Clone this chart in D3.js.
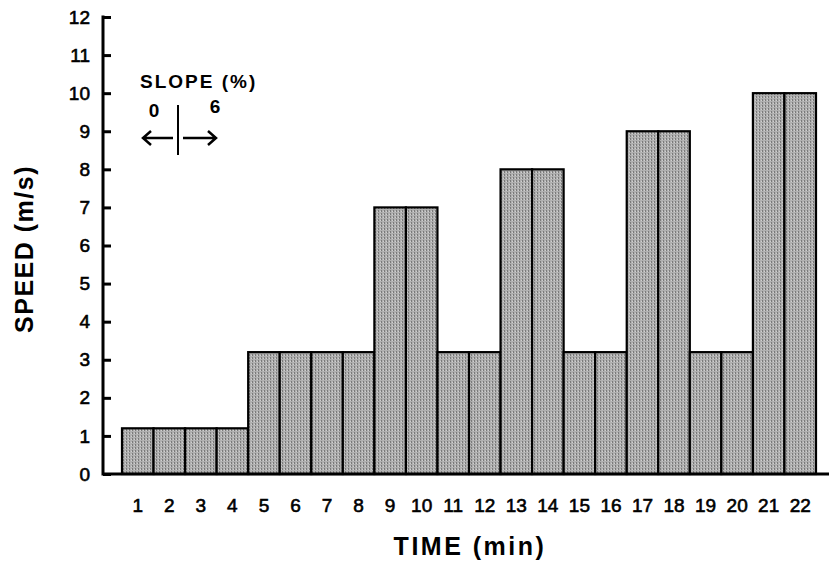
<!DOCTYPE html>
<html>
<head>
<meta charset="utf-8">
<script src="https://cdn.jsdelivr.net/npm/d3@7"></script>
<style>
  body { margin: 0; background: #fff; }
  svg { display: block; font-family: "Liberation Sans", Arial, sans-serif; }
</style>
</head>
<body>
<div id="chart"></div>
<script>
// Vitesse par minute de test (pente 0 % puis 6 %)
const minutes = d3.range(1, 23);
const speeds = [1.2, 1.2, 1.2, 1.2, 3.2, 3.2, 3.2, 3.2, 7, 7, 3.2, 3.2, 8, 8, 3.2, 3.2, 9, 9, 3.2, 3.2, 10, 10];
const yTicks = d3.range(0, 13);

const width = 829, height = 565;
const margin = { top: 17, right: 0, bottom: 90, left: 103 };

const svg = d3.select("#chart")
    .append("svg")
    .attr("width", width)
    .attr("height", height);

// texture grise des barres
const defs = svg.append("defs");
const pat = defs.append("pattern")
    .attr("id", "stipple")
    .attr("width", 3)
    .attr("height", 3)
    .attr("patternUnits", "userSpaceOnUse");
pat.append("rect").attr("width", 3).attr("height", 3).attr("fill", "#b0b0b0");
pat.append("rect").attr("x", 0).attr("y", 0).attr("width", 1).attr("height", 2).attr("fill", "#7a7a7a");
pat.append("rect").attr("x", 2).attr("y", 1).attr("width", 1).attr("height", 1).attr("fill", "#d0d0d0");

const x = d3.scaleBand()
    .domain(minutes)
    .range([122, 816])
    .padding(0);

const y = d3.scaleLinear()
    .domain([0, 12])
    .range([474, margin.top]);

// barres
svg.append("g")
    .selectAll("rect")
    .data(minutes.map((m, i) => ({ m, v: speeds[i] })))
    .enter()
    .append("rect")
    .attr("x", d => x(d.m))
    .attr("y", d => y(d.v))
    .attr("width", x.bandwidth())
    .attr("height", d => y(0) - y(d.v))
    .attr("fill", "url(#stipple)")
    .attr("stroke", "#000")
    .attr("stroke-width", 2.2);

// axe Y (graduations vers l'intérieur)
const yAxis = svg.append("g")
    .attr("transform", `translate(${margin.left},0)`)
    .call(d3.axisRight(y).tickValues(yTicks).tickSize(8).tickFormat(d3.format("d")));
yAxis.select(".domain").remove();
yAxis.selectAll(".tick line").attr("stroke", "#000").attr("stroke-width", 3);
yAxis.selectAll(".tick text")
    .attr("x", -13)
    .attr("text-anchor", "end")
    .attr("font-size", 19)
    .attr("fill", "#000")
    .attr("stroke", "#000")
    .attr("stroke-width", 0.6);

svg.append("line")
    .attr("x1", margin.left).attr("x2", margin.left)
    .attr("y1", y(12) - 1.5).attr("y2", y(0) + 1.5)
    .attr("stroke", "#000").attr("stroke-width", 3);

// axe X
svg.append("line")
    .attr("x1", margin.left).attr("x2", width)
    .attr("y1", y(0)).attr("y2", y(0))
    .attr("stroke", "#000").attr("stroke-width", 3);

svg.append("g")
    .selectAll("text")
    .data(minutes)
    .enter()
    .append("text")
    .attr("x", d => x(d) + x.bandwidth() / 2)
    .attr("y", 512)
    .attr("text-anchor", "middle")
    .attr("font-size", 19)
    .attr("stroke", "#000")
    .attr("stroke-width", 0.6)
    .text(d => d);

// titres des axes
svg.append("text")
    .attr("x", 470)
    .attr("y", 555)
    .attr("text-anchor", "middle")
    .attr("font-size", 25)
    .attr("font-weight", "bold")
    .attr("letter-spacing", 2.5)
    .text("TIME (min)");

svg.append("text")
    .attr("transform", "translate(33,249) rotate(-90)")
    .attr("text-anchor", "middle")
    .attr("font-size", 25)
    .attr("font-weight", "bold")
    .attr("letter-spacing", 1.5)
    .text("SPEED (m/s)");

// annotation pente
const note = svg.append("g");
note.append("text")
    .attr("x", 140).attr("y", 88)
    .attr("font-size", 19).attr("font-weight", "bold")
    .attr("letter-spacing", 2)
    .text("SLOPE (%)");
note.append("text")
    .attr("x", 154).attr("y", 117)
    .attr("text-anchor", "middle")
    .attr("font-size", 19).attr("font-weight", "bold")
    .text("0");
note.append("text")
    .attr("x", 215).attr("y", 113)
    .attr("text-anchor", "middle")
    .attr("font-size", 19).attr("font-weight", "bold")
    .text("6");
note.append("line")
    .attr("x1", 178).attr("x2", 178).attr("y1", 105).attr("y2", 155)
    .attr("stroke", "#000").attr("stroke-width", 2);
note.append("path")
    .attr("d", "M173,138 L143,138 M151,131 L143,138 L151,145")
    .attr("fill", "none").attr("stroke", "#000").attr("stroke-width", 2.5);
note.append("path")
    .attr("d", "M183,138 L216,138 M208,131 L216,138 L208,145")
    .attr("fill", "none").attr("stroke", "#000").attr("stroke-width", 2.5);
</script>
</body>
</html>
